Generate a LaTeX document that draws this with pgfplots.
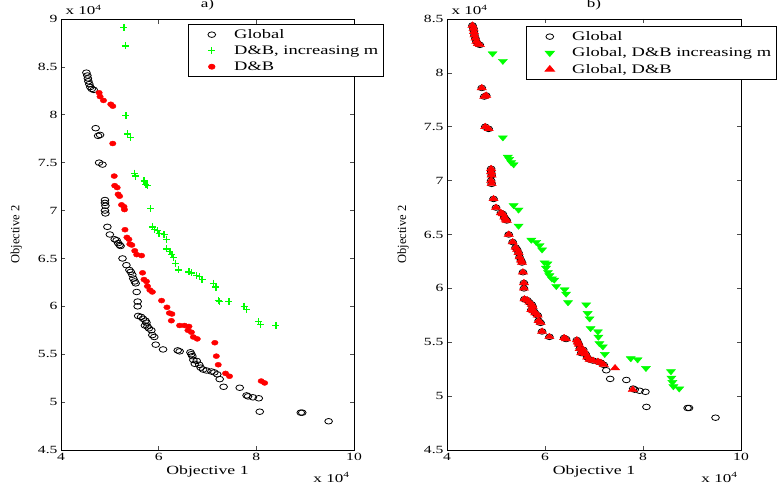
\documentclass[border=0pt]{standalone}
\usepackage{fontspec}
\setmainfont{Liberation Serif}[FakeStretch=1.42]
\newfontfamily\ylabfont{Liberation Serif}
\usepackage{pgfplots}
\pgfplotsset{compat=1.18}
\definecolor{mgreen}{RGB}{0,255,0}
\definecolor{mred}{RGB}{255,0,0}

% Global front (both panels)
\pgfplotstableread{
x y
4.52 8.44
4.54 8.41
4.55 8.38
4.56 8.35
4.58 8.32
4.60 8.29
4.63 8.27
4.67 8.26
4.71 7.86
4.76 7.78
4.80 7.79
4.78 7.50
4.85 7.48
4.90 7.11
4.90 7.08
4.91 7.05
4.90 7.00
4.91 6.97
4.95 6.83
5.00 6.75
5.10 6.70
5.14 6.69
5.17 6.66
5.20 6.64
5.22 6.63
5.26 6.50
5.34 6.43
5.40 6.38
5.43 6.36
5.46 6.33
5.48 6.29
5.51 6.26
5.53 6.24
5.55 6.15
5.57 6.05
5.57 6.00
5.58 5.90
5.64 5.89
5.68 5.87
5.73 5.85
5.75 5.83
5.72 5.80
5.77 5.79
5.80 5.77
5.85 5.75
5.87 5.70
5.91 5.68
5.94 5.60
6.09 5.55
6.39 5.54
6.43 5.53
6.65 5.52
6.67 5.50
6.69 5.48
6.71 5.44
6.74 5.40
6.78 5.43
6.83 5.39
6.86 5.36
6.91 5.34
6.98 5.33
7.08 5.32
7.14 5.31
7.20 5.29
7.25 5.24
7.33 5.16
7.66 5.15
7.80 5.07
7.83 5.06
7.93 5.05
8.05 5.04
8.07 4.90
8.91 4.89
8.94 4.89
9.48 4.80
}\globaldata

% D&B, increasing m (panel a)
\pgfplotstableread{
x y
5.29 8.91
5.32 8.72
5.33 7.99
5.36 7.80
5.42 7.76
5.51 7.39
5.53 7.36
5.70 7.31
5.74 7.27
5.77 7.26
5.83 7.02
5.87 6.83
5.91 6.80
5.98 6.79
6.01 6.76
6.11 6.75
6.16 6.70
6.16 6.60
6.23 6.57
6.27 6.54
6.30 6.51
6.34 6.45
6.41 6.38
6.62 6.36
6.67 6.35
6.77 6.32
6.84 6.31
6.89 6.28
7.12 6.24
7.17 6.20
7.22 6.06
7.25 6.05
7.44 6.05
7.75 6.00
7.80 5.97
8.04 5.84
8.09 5.81
8.40 5.80
}\dbmdata

% D&B (panel a)
\pgfplotstableread{
x y
4.78 8.23
4.80 8.19
4.87 8.15
5.02 8.11
5.06 8.09
5.06 7.70
5.09 7.36
5.10 7.26
5.15 7.24
5.17 7.17
5.20 7.15
5.24 7.06
5.29 7.04
5.30 7.01
5.31 6.80
5.35 6.72
5.39 6.70
5.41 6.65
5.45 6.64
5.51 6.58
5.55 6.54
5.65 6.53
5.67 6.35
5.70 6.28
5.75 6.26
5.77 6.21
5.82 6.17
5.87 6.15
6.06 6.06
6.17 5.99
6.22 5.93
6.27 5.92
6.26 5.85
6.43 5.80
6.53 5.80
6.62 5.79
6.60 5.75
6.67 5.73
6.71 5.68
6.79 5.66
7.15 5.62
7.18 5.48
7.22 5.39
7.37 5.30
7.45 5.27
8.10 5.22
8.17 5.20
}\dbdata

% Global, D&B increasing m (panel b)
\pgfplotstableread{
x y
4.93 8.18
5.14 8.11
5.14 7.40
5.24 7.22
5.27 7.20
5.31 7.17
5.36 7.15
5.36 6.77
5.46 6.73
5.46 6.58
5.72 6.45
5.82 6.43
5.89 6.40
5.94 6.36
5.99 6.24
6.05 6.23
6.02 6.19
6.06 6.15
6.09 6.12
6.14 6.09
6.19 6.08
6.23 6.02
6.40 5.99
6.43 5.95
6.47 5.87
6.84 5.85
6.87 5.77
6.91 5.72
6.93 5.63
7.08 5.60
7.09 5.55
7.11 5.49
7.18 5.46
7.22 5.39
7.75 5.35
7.89 5.34
8.06 5.26
8.57 5.23
8.58 5.17
8.60 5.13
8.62 5.09
8.74 5.07
}\gdbmdata

% Global, D&B (panel b): global points up to x=7.2 plus two
\pgfplotstableread{
x y
7.43 5.26
7.79 5.06
}\gdbextra

\pgfplotsset{
  mlab/.style={
    scale only axis, height=431pt, anchor=south west,
    xmin=4, xmax=10, xtick={4,6,8,10},
    tick align=inside, tick pos=both, major tick length=4.5pt,
    every tick/.style={black!70, line width=0.6pt},
    axis line style={line width=0.9pt},
    /pgf/number format/assume math mode=true,
    ticklabel style={font=\fontsize{11}{12}\selectfont},
    xlabel={Objective 1},
    xlabel style={font=\fontsize{12.5}{13}\selectfont, at={(axis description cs:0.5,-0.051)}, anchor=center},
    ylabel={\ylabfont Objective 2},
    ylabel style={font=\fontsize{12.5}{13}\selectfont, anchor=center},
    title style={font=\fontsize{12}{13}\selectfont, at={(axis description cs:0.5,1)}, anchor=center, yshift=8pt},
    legend cell align=left,
    legend style={anchor=north west, draw=black, line width=0.8pt,
      font=\fontsize{13}{14}\selectfont, inner xsep=2pt, inner ysep=2.5pt,
      row sep=0.8pt, nodes={inner xsep=3pt, inner ysep=2.5pt}},
    every axis plot post/.append style={
      legend image code/.code={\path (0pt,0pt) (40pt,0pt); \draw[##1] plot coordinates {(21pt,0pt)};}},
  },
  gcirc/.style={only marks, mark=o, mark size=2.8pt, mark options={xscale=1.38, line width=0.8pt, draw=black}},
}

\begin{document}
\begin{tikzpicture}
\begin{axis}[mlab, at={(61pt,43pt)}, width=293pt,
    ymin=4.5, ymax=9, ytick={4.5,5,...,9},
    title={a)},
    ylabel style={at={(axis description cs:-0.152,0.5)}},
    legend style={at={(axis description cs:0.4334,0.9884)}}]
\addplot[gcirc] table {\globaldata};
\addplot[only marks, mark=+, mark size=3.5pt, mgreen, mark options={draw=mgreen, line width=1.4pt}] table {\dbmdata};
\addplot[only marks, mark=*, mark size=2.5pt, mred, mark options={xscale=1.3, draw=mred, fill=mred}] table {\dbdata};
\legend{Global, {D\&B, increasing m}, D\&B}
\end{axis}

\begin{axis}[mlab, at={(447pt,43pt)}, width=294pt,
    ymin=4.5, ymax=8.5, ytick={4.5,5,...,8.5},
    title={b)},
    ylabel style={at={(axis description cs:-0.1497,0.5)}},
    legend style={at={(axis description cs:0.2687,0.9838)}}]
\addplot[gcirc] table {\globaldata};
\addplot[only marks, mark=triangle*, mark size=3.5pt, mgreen, mark options={rotate=180, xscale=1.5, draw=mgreen, fill=mgreen}] table {\gdbmdata};
\addplot[only marks, mark=triangle*, mark size=3.7pt, mred, mark options={xscale=1.45, draw=mred, fill=mred}, restrict x to domain=4:7.21] table {\globaldata};
\addlegendentry{Global}
\addlegendentry{Global, D\&B increasing m}
\addlegendentry{Global, D\&B}
\addplot[only marks, mark=triangle*, mark size=3.7pt, mred, mark options={xscale=1.45, draw=mred, fill=mred}, forget plot] table {\gdbextra};
\end{axis}

\node[anchor=base west, font=\fontsize{12}{13}\selectfont] at (62pt,478pt) {x 10\textsuperscript{4}};
\node[anchor=base west, font=\fontsize{12}{13}\selectfont] at (448pt,478pt) {x 10\textsuperscript{4}};
\node[anchor=base east, font=\fontsize{12}{13}\selectfont] at (353pt,11pt) {x 10\textsuperscript{4}};
\node[anchor=base east, font=\fontsize{12}{13}\selectfont] at (741pt,11pt) {x 10\textsuperscript{4}};

\pgfresetboundingbox
\path (0pt,0pt) rectangle (778pt,493pt);
\end{tikzpicture}
\end{document}
